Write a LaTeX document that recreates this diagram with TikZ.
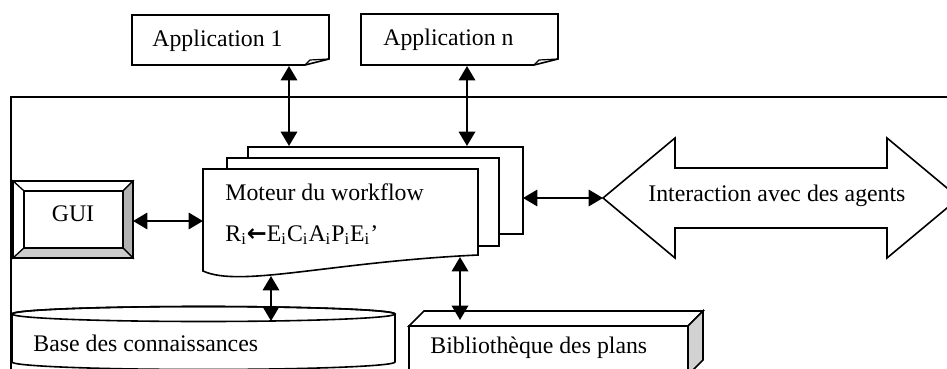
\documentclass[tikz,border=0pt]{standalone}
\usepackage{fontspec}
\setmainfont{Liberation Serif}
\newfontfamily\symfont{DejaVu Sans}
\usetikzlibrary{arrows.meta}
\begin{document}
\begin{tikzpicture}[x=0.5pt,y=-0.5pt,
  shape line/.style={draw=black,line width=0.8pt,line join=miter},
  thin line/.style={draw=black,line width=0.6pt,line join=miter},
  link/.style={line width=1.1pt,{Triangle[length=7.2pt,width=8.2pt]}-{Triangle[length=7.2pt,width=8.2pt]}},
  label text/.style={inner sep=0pt,anchor=base west,font=\fontsize{11.9}{14}\selectfont}]
\useasboundingbox (0,0) rectangle (947,369);
\clip (0,0) rectangle (947,369);

% system frame (open to the right and bottom)
\draw[line width=1pt] (1000,97) -- (11,97) -- (11,420);

% application documents with folded corner
\draw[shape line,fill=white] (132,15) -- (329,15) -- (329,59) -- (305,65) -- (132,65) -- cycle;
\draw[thin line] (305,65) -- (310,60) -- (329,59);
\node[label text] (app1) at (152,47) {Application 1};

\draw[shape line,fill=white] (361,14) -- (558,14) -- (558,59) -- (534,65) -- (361,65) -- cycle;
\draw[thin line] (534,65) -- (539,60) -- (558,59);
\node[label text] (appn) at (383,46) {Application n};

% workflow engine: stack of documents
\draw[shape line,fill=white] (248,147) rectangle (523,234);
\draw[shape line,fill=white] (227,158) rectangle (499,246);
\draw[shape line,fill=white] (203,169) -- (478,169) -- (478,255)
  .. controls (330,262) and (240,288) .. (203,271) -- cycle;
\node[label text] (engine) at (225,200) {Moteur du workflow};
\node[label text] (rule) at (225,241) {R\textsubscript{i}{\symfont\bfseries ←}E\textsubscript{i}C\textsubscript{i}A\textsubscript{i}P\textsubscript{i}E\textsubscript{i}’};

% GUI bevelled button
\fill[white] (13,181) rectangle (133,258);
\filldraw[thin line,fill=white] (13,181) -- (133,181) -- (123,191) -- (24,191) -- cycle;
\filldraw[thin line,fill=white] (13,181) -- (24,191) -- (24,248) -- (13,258) -- cycle;
\filldraw[thin line,fill=gray!60] (133,181) -- (133,258) -- (123,248) -- (123,191) -- cycle;
\filldraw[thin line,fill=gray!40] (13,258) -- (133,258) -- (123,248) -- (24,248) -- cycle;
\draw[shape line] (13,181) rectangle (133,258);
\draw[thin line] (24,191) rectangle (123,248);
\node[inner sep=0pt,anchor=base,font=\fontsize{11.9}{14}\selectfont] (gui) at (73,221) {GUI};

% knowledge base cylinder
\filldraw[shape line,fill=white] (12,314) -- (12,362)
  arc[start angle=180,end angle=360,x radius=95.75pt,y radius=3.75pt]
  -- (395,314) arc[start angle=0,end angle=180,x radius=95.75pt,y radius=3.75pt] -- cycle;
\draw[shape line] (203.5,314) ellipse[x radius=95.75pt,y radius=3.75pt];
\node[label text] (kb) at (33,351) {Base des connaissances};

% plan library box
\filldraw[shape line,fill=white] (409,326) rectangle (688,380);
\filldraw[shape line,fill=white] (409,326) -- (424,311) -- (703,311) -- (688,326) -- cycle;
\filldraw[shape line,fill=gray!35] (688,326) -- (703,311) -- (703,360) -- (688,375) -- cycle;
\node[label text] (lib) at (430,353) {Bibliothèque des plans};

% agent interaction double arrow
\draw[shape line,fill=white] (603,198) -- (675,138) -- (675,168) -- (887,168) -- (887,138)
  -- (959,198) -- (887,258) -- (887,228) -- (675,228) -- (675,258) -- cycle;
\node[label text] (agents) at (648,201) {Interaction avec des agents};

% connector end points
\coordinate (app1-s) at (289,66);
\coordinate (eng-n1) at (289,146);
\coordinate (appn-s) at (467,66);
\coordinate (eng-n2) at (467,146);
\coordinate (gui-e) at (133,221);
\coordinate (eng-w) at (203,221);
\coordinate (eng-s1) at (271,276);
\coordinate (kb-n) at (271,321);
\coordinate (eng-s2) at (460,257);
\coordinate (lib-n) at (460,320);
\coordinate (eng-e) at (523,198);
\coordinate (agents-w) at (603,198);

% connectors
\draw[link] (app1-s) -- (eng-n1);
\draw[link] (appn-s) -- (eng-n2);
\draw[link] (gui-e) -- (eng-w);
\draw[link] (eng-s1) -- (kb-n);
\draw[link] (eng-s2) -- (lib-n);
\draw[link] (eng-e) -- (agents-w);
\end{tikzpicture}
\end{document}
